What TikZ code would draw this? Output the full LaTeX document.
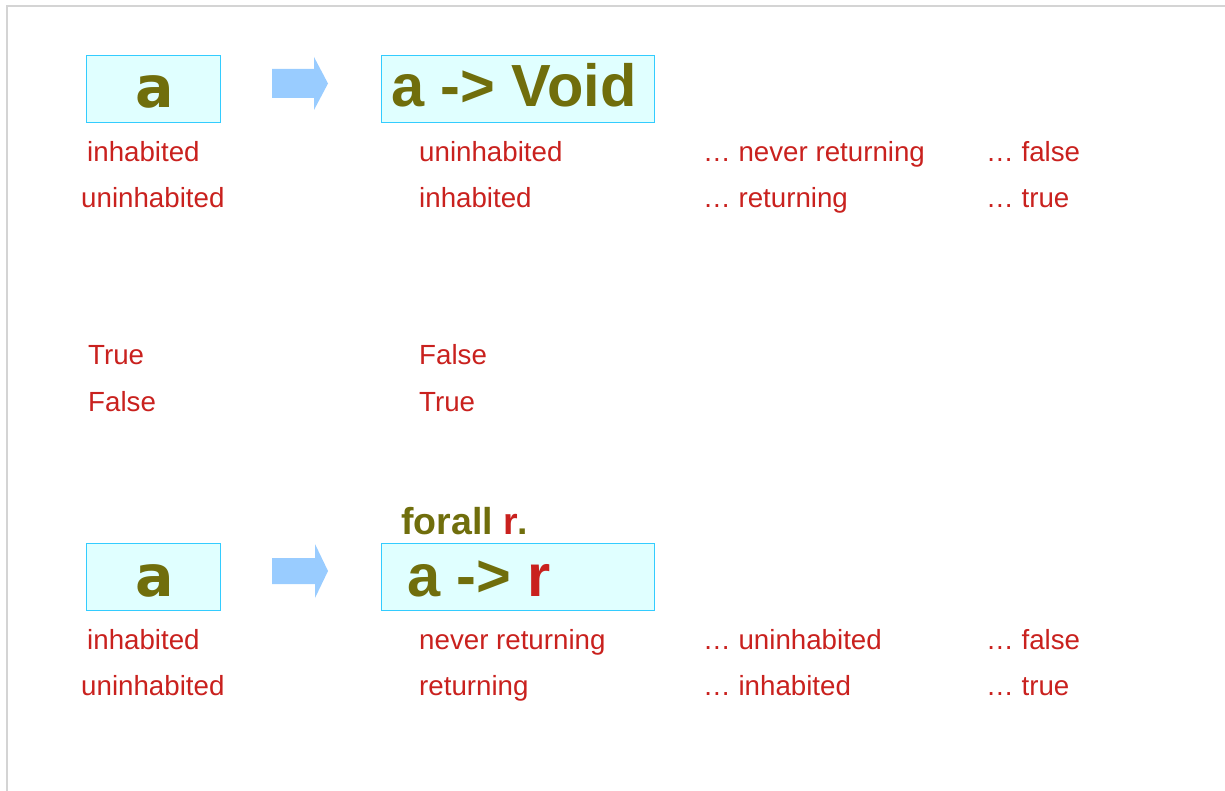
\documentclass[tikz,border=0pt]{standalone}
\usepackage{fontspec}
\setmainfont{Liberation Sans}[BoldFont={Liberation Sans Bold}]
\newfontfamily\typevarfont{DejaVu Sans}[BoldFont={DejaVu Sans Bold}]
\usepackage{tikz}
\usetikzlibrary{positioning}
\usepackage{xcolor}

\definecolor{olive}{HTML}{706E0C}
\definecolor{notered}{HTML}{C9211E}
\definecolor{boxfill}{HTML}{E0FFFF}
\definecolor{boxedge}{HTML}{33CCFF}
\definecolor{flowblue}{HTML}{99CCFF}
\definecolor{framegray}{HTML}{D4D4D4}

\newcommand{\notesize}{\fontsize{27.7}{32}\selectfont}
\newcommand{\bigsize}{\bfseries\fontsize{59.5}{62}\selectfont}

\begin{document}
\begin{tikzpicture}[x=1pt, y=-1pt]
\tikzstyle{typebox} = [draw=boxedge, fill=boxfill, line width=1pt, minimum width=134pt, minimum height=67pt, inner sep=0pt]
\tikzstyle{widebox} = [typebox, minimum width=273pt]
\tikzstyle{note} = [anchor=base west, inner sep=0pt, text=notered, font=\notesize]
\tikzstyle{typetext} = [anchor=base west, inner sep=0pt, text=olive, font=\bigsize]
\tikzstyle{tyvar} = [anchor=base, inner sep=0pt, text=olive, font=\typevarfont\bfseries\fontsize{57}{60}\selectfont]
\tikzstyle{flow} = [fill=flowblue]

\useasboundingbox (0,0) rectangle (1225,791);
\draw[framegray, line width=1.5pt] (7,791) -- (7,6) -- (1225,6);

% negation: a -> Void
\node[typebox] (a1) at (153,89.5) {};
\node[widebox] (void) at (517.5,89.5) {};
\node[tyvar] (a1txt) at (154.5,107.5) {a};
\node[typetext] (voidtxt) at (391,107) {a -> Void};
\fill[flow, shift={(272,83.5)}] (0,-14.5) -- (42,-14.5) -- (42,-26.5) -- (56,0) -- (42,26.5) -- (42,14.5) -- (0,14.5) -- cycle;

\node[note] (inh1) at (87,162) {inhabited};
\node[note] (uninh1) at (81,208) {uninhabited};
\node[note] (vuninh) at (419,162) {uninhabited};
\node[note] (vinh) at (419,208) {inhabited};
\node[note] (never1) at (703,162) {… never returning};
\node[note] (ret1) at (703,208) {… returning};
\node[note] (false1) at (986,162) {… false};
\node[note] (true1) at (986,208) {… true};

% truth values
\node[note] (ttrue) at (88,364) {True};
\node[note] (tfalse) at (88,411) {False};
\node[note] (nfalse) at (419,364) {False};
\node[note] (ntrue) at (419,411) {True};

% continuation: forall r. a -> r
\node[typebox] (a2) at (153,577) {};
\node[widebox] (cont) at (517.5,576.5) {};
\node[tyvar] (a2txt) at (154.5,596.5) {a};
\node[typetext] (conttxt) at (407,596) {a -> \textcolor{notered}{r}};
\node[typetext, font=\bfseries\fontsize{37.5}{40}\selectfont] (forall) at (401,534) {forall \textcolor{notered}{r}.};
\fill[flow, shift={(272,571)}] (0,-13) -- (43,-13) -- (43,-27) -- (56,0) -- (43,27) -- (43,13) -- (0,13) -- cycle;

\node[note] (inh2) at (87,649) {inhabited};
\node[note] (uninh2) at (81,695) {uninhabited};
\node[note] (never2) at (419,649) {never returning};
\node[note] (ret2) at (419,695) {returning};
\node[note] (cuninh) at (703,649) {… uninhabited};
\node[note] (cinh) at (703,695) {… inhabited};
\node[note] (false2) at (986,649) {… false};
\node[note] (true2) at (986,695) {… true};
\end{tikzpicture}
\end{document}
